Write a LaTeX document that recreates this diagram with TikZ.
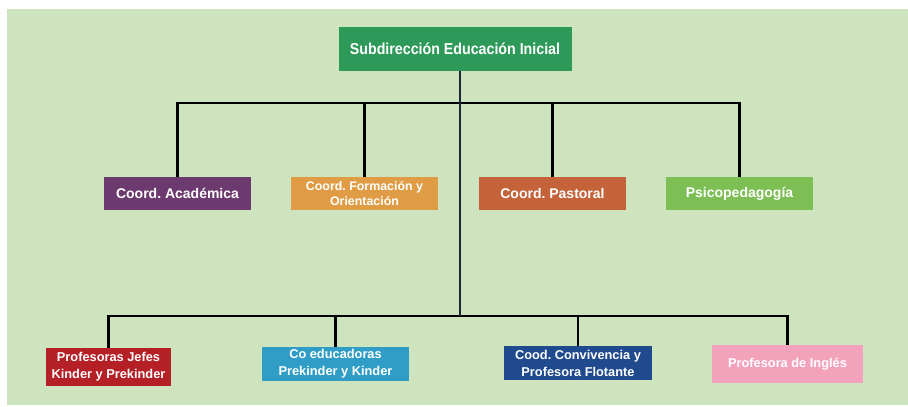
\documentclass[tikz,border=0pt]{standalone}
\usepackage{fontspec}
\setmainfont{Liberation Sans}
\frenchspacing
\definecolor{bgg}{HTML}{CDE4BF}
\definecolor{ctop}{HTML}{2E9A5A}
\definecolor{cacad}{HTML}{6C3A6E}
\definecolor{cform}{HTML}{DF9C45}
\definecolor{cpast}{HTML}{C4623A}
\definecolor{cpsic}{HTML}{7DBE55}
\definecolor{cprof}{HTML}{B51F26}
\definecolor{ccoed}{HTML}{2F9DC6}
\definecolor{cconv}{HTML}{1F4A8E}
\definecolor{cingl}{HTML}{F2A3BB}
\definecolor{trunkc}{HTML}{1C2638}
\begin{document}
\frenchspacing
\begin{tikzpicture}[x=1pt,y=-1pt,
  box/.style={inner sep=0pt,align=center,text=white,font=\bfseries},
  lvone/.style={box,minimum width=147pt,minimum height=33pt,font=\fontsize{14}{15}\selectfont\bfseries},
  lvtwo/.style={box,font=\fontsize{12.8}{17}\selectfont\bfseries},
  bar/.style={line width=2.6pt,black},
  trunk/.style={line width=2pt,trunkc}]
\useasboundingbox (0,0) rectangle (908,407);
\fill[white] (0,0) rectangle (908,407);
\fill[bgg] (7,9) rectangle (908,405);
% nodes
\node[box,fill=ctop,minimum width=233pt,minimum height=44pt,font=\fontsize{15.8}{18}\selectfont\bfseries] (top) at (455,49) {\scalebox{0.9}[1]{Subdirección Educación Inicial}};
\node[lvone,fill=cacad] (acad) at (177.5,193.5) {Coord. Académica};
\node[lvone,fill=cform,font=\fontsize{12.4}{15}\selectfont\bfseries] (form) at (364.5,193.5) {Coord. Formación y\\Orientación};
\node[lvone,fill=cpast] (past) at (552.5,193.5) {Coord. Pastoral};
\node[lvone,fill=cpsic] (psic) at (739.5,193.5) {Psicopedagogía};
\node[lvtwo,fill=cprof,minimum width=125pt,minimum height=38pt] (prof) at (108.5,367) {Profesoras Jefes\\Kinder y Prekinder};
\node[lvtwo,fill=ccoed,minimum width=147pt,minimum height=34pt] (coed) at (335.5,364) {Co educadoras\\Prekinder y Kinder};
\node[lvtwo,fill=cconv,minimum width=148pt,minimum height=34pt] (conv) at (578,363) {Cood. Convivencia y\\Profesora Flotante};
\node[lvtwo,fill=cingl,minimum width=151pt,minimum height=38pt] (ingl) at (787.5,364) {Profesora de Inglés};
% connectors
\coordinate (t1) at (460,103);
\coordinate (b1) at (460,316);
\draw[bar] (acad.north) -- (acad.north |- t1) -- (psic.north |- t1) -- (psic.north);
\draw[bar] (form.north) -- (form.north |- t1);
\draw[bar] (past.north) -- (past.north |- t1);
\draw[bar] (prof.north) -- (prof.north |- b1) -- (ingl.north |- b1) -- (ingl.north);
\draw[bar] (coed.north) -- (coed.north |- b1);
\draw[bar] (conv.north) -- (conv.north |- b1);
\draw[trunk] (top.south -| t1) -- (b1);
\end{tikzpicture}
\end{document}
